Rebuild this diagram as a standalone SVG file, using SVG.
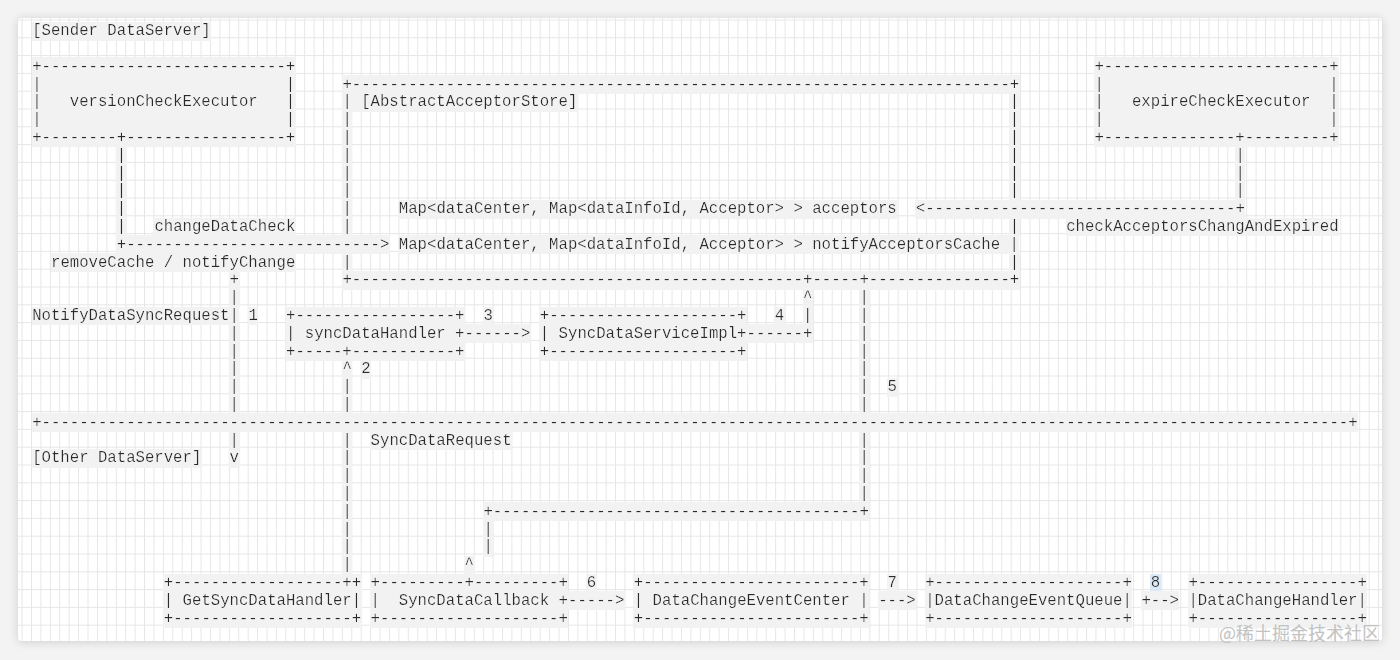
<svg xmlns="http://www.w3.org/2000/svg" width="1400" height="660" viewBox="0 0 1400 660" xml:space="preserve">
<defs>
<filter id="shadow" x="-5%" y="-5%" width="110%" height="110%"><feDropShadow dx="0" dy="1" stdDeviation="5" flood-color="#000" flood-opacity="0.16"/></filter>
<filter id="hl" x="0" y="0" width="1" height="1"><feFlood flood-color="#f2f2f2"/><feMerge><feMergeNode/><feMergeNode in="SourceGraphic"/></feMerge></filter>
<filter id="hlb" x="0" y="0" width="1" height="1"><feFlood flood-color="#dbe8f5"/><feMerge><feMergeNode/><feMergeNode in="SourceGraphic"/></feMerge></filter>
<pattern id="grid" x="31" y="1.7" width="9.42" height="17.8" patternUnits="userSpaceOnUse"><path d="M0.5 0V17.8M0 0.5H9.42" fill="none" stroke="#e6e6e6" stroke-width="1"/></pattern>
</defs>
<style>
text{font-family:"Liberation Mono","DejaVu Sans Mono",monospace;font-size:15.667px;fill:#2a2a2a;white-space:pre;filter:url(#hl)}
text.b{filter:url(#hlb)}
text.wm{font-family:"Noto Sans CJK SC","Noto Sans",sans-serif;font-size:18px;fill:#c2c2c2;filter:none}
</style>
<rect width="1400" height="660" fill="#f3f3f3"/>
<rect x="18" y="18" width="1364" height="623" rx="4" fill="#ffffff" filter="url(#shadow)"/>
<rect x="18" y="18" width="1364" height="623" rx="4" fill="url(#grid)"/>

<g id="sender-dataserver-label">
<text x="32.2" y="35.2">[Sender DataServer]</text>
</g>

<g id="version-check-executor">
<text x="32.2" y="70.8">+--------------------------+</text>
<text x="32.2" y="88.6">|                          |</text>
<text x="32.2" y="106.4">|   versionCheckExecutor   |</text>
<text x="32.2" y="124.2">|                          |</text>
<text x="32.2" y="142">+--------+-----------------+</text>
</g>

<g id="abstract-acceptor-store">
<text x="342.4" y="88.6" textLength="676.8">+----------------------------------------------------------------------+</text>
<text x="342.4" y="106.4">| [AbstractAcceptorStore]</text>
<text x="1009.8"><tspan x="1009.8" y="106.4">|</tspan><tspan x="1009.8" y="124.2">|</tspan><tspan x="1009.8" y="142">|</tspan><tspan x="1009.8" y="159.8">|</tspan><tspan x="1009.8" y="177.6">|</tspan><tspan x="1009.8" y="195.4">|</tspan></text>
<text x="342.4"><tspan x="342.4" y="124.2">|</tspan><tspan x="342.4" y="142">|</tspan><tspan x="342.4" y="159.8">|</tspan><tspan x="342.4" y="177.6">|</tspan><tspan x="342.4" y="195.4">|</tspan><tspan x="342.4" y="213.2">|</tspan><tspan x="342.4" y="231">|</tspan></text>
<text x="398.8" y="213.2">Map&lt;dataCenter, Map&lt;dataInfoId, Acceptor&gt; &gt; acceptors</text>
<text x="1009.8" y="231">|</text>
<text x="398.8" y="248.8">Map&lt;dataCenter, Map&lt;dataInfoId, Acceptor&gt; &gt; notifyAcceptorsCache |</text>
<text x="342.4" y="266.6">|</text>
<text x="1009.8" y="266.6">|</text>
<text x="342.4" y="284.4" textLength="676.8">+------------------------------------------------+-----+---------------+</text>
</g>

<g id="expire-check-executor">
<text x="1094.4" y="70.8">+------------------------+</text>
<text x="1094.4" y="88.6">|                        |</text>
<text x="1094.4" y="106.4">|   expireCheckExecutor  |</text>
<text x="1094.4" y="124.2">|                        |</text>
<text x="1094.4" y="142">+--------------+---------+</text>
</g>

<g id="sync-data-handler">
<text x="286" y="320">+-----------------+</text>
<text x="286" y="337.8">| syncDataHandler +</text>
<text x="286" y="355.6">+-----+-----------+</text>
</g>

<g id="sync-data-service-impl">
<text x="539.8" y="320">+--------------------+</text>
<text x="539.8" y="337.8">| SyncDataServiceImpl+</text>
<text x="539.8" y="355.6">+--------------------+</text>
</g>

<g id="other-dataserver-label">
<text x="32.2" y="462.4">[Other DataServer]</text>
</g>

<g id="get-sync-data-handler">
<text x="163.8" y="587">+------------------++</text>
<text x="163.8" y="604.8">| GetSyncDataHandler|</text>
<text x="163.8" y="622.6">+-------------------+</text>
</g>

<g id="sync-data-callback">
<text x="370.6" y="587">+---------+---------+</text>
<text x="370.6" y="604.8">|  SyncDataCallback +</text>
<text x="370.6" y="622.6">+-------------------+</text>
</g>

<g id="data-change-event-center">
<text x="633.8" y="587">+-----------------------+</text>
<text x="633.8" y="604.8">| DataChangeEventCenter |</text>
<text x="633.8" y="622.6">+-----------------------+</text>
</g>

<g id="data-change-event-queue">
<text x="925.2" y="587">+--------------------+</text>
<text x="925.2" y="604.8">|DataChangeEventQueue|</text>
<text x="925.2" y="622.6">+--------------------+</text>
</g>

<g id="data-change-handler">
<text x="1188.4" y="587">+-----------------+</text>
<text x="1188.4" y="604.8">|DataChangeHandler|</text>
<text x="1188.4" y="622.6">+-----------------+</text>
</g>

<g id="connectors">
<text x="116.8"><tspan x="116.8" y="159.8">|</tspan><tspan x="116.8" y="177.6">|</tspan><tspan x="116.8" y="195.4">|</tspan><tspan x="116.8" y="213.2">|</tspan><tspan x="116.8" y="231">|</tspan></text>
<text x="116.8" y="248.8" textLength="272.6">+---------------------------&gt;</text>
<text x="154.4" y="231">changeDataCheck</text>
<text x="51" y="266.6">removeCache / notifyChange</text>

<text x="1235.4"><tspan x="1235.4" y="159.8">|</tspan><tspan x="1235.4" y="177.6">|</tspan><tspan x="1235.4" y="195.4">|</tspan></text>
<text x="915.8" y="213.2" textLength="329">&lt;---------------------------------+</text>
<text x="1066.2" y="231">checkAcceptorsChangAndExpired</text>

<text x="229.6"><tspan x="229.6" y="284.4">+</tspan><tspan x="229.6" y="302.2">|</tspan></text>
<text x="32.2" y="320">NotifyDataSyncRequest|</text>
<text x="248.4" y="320">1</text>
<text x="229.6"><tspan x="229.6" y="337.8">|</tspan><tspan x="229.6" y="355.6">|</tspan><tspan x="229.6" y="373.4">|</tspan><tspan x="229.6" y="391.2">|</tspan><tspan x="229.6" y="409">|</tspan></text>
<text x="229.6"><tspan x="229.6" y="444.6">|</tspan><tspan x="229.6" y="462.4">v</tspan></text>

<text x="483.4" y="320">3</text>
<text x="464.6" y="337.8">------&gt;</text>

<text x="746.6" y="337.8">------+</text>
<text x="803"><tspan x="803" y="302.2">^</tspan><tspan x="803" y="320">|</tspan></text>
<text x="774.8" y="320">4</text>

<text x="342.4"><tspan x="342.4" y="373.4">^</tspan><tspan x="342.4" y="391.2">|</tspan><tspan x="342.4" y="409">|</tspan></text>
<text x="361.2" y="373.4">2</text>
<text x="342.4"><tspan x="342.4" y="444.6">|</tspan><tspan x="342.4" y="462.4">|</tspan><tspan x="342.4" y="480.2">|</tspan><tspan x="342.4" y="498">|</tspan><tspan x="342.4" y="515.8">|</tspan><tspan x="342.4" y="533.6">|</tspan><tspan x="342.4" y="551.4">|</tspan><tspan x="342.4" y="569.2">|</tspan></text>
<text x="370.6" y="444.6">SyncDataRequest</text>

<text x="859.4"><tspan x="859.4" y="302.2">|</tspan><tspan x="859.4" y="320">|</tspan><tspan x="859.4" y="337.8">|</tspan><tspan x="859.4" y="355.6">|</tspan><tspan x="859.4" y="373.4">|</tspan><tspan x="859.4" y="391.2">|</tspan><tspan x="859.4" y="409">|</tspan></text>
<text x="887.6" y="391.2">5</text>
<text x="859.4"><tspan x="859.4" y="444.6">|</tspan><tspan x="859.4" y="462.4">|</tspan><tspan x="859.4" y="480.2">|</tspan><tspan x="859.4" y="498">|</tspan></text>
<text x="483.4" y="515.8" textLength="385.4">+---------------------------------------+</text>
<text x="483.4"><tspan x="483.4" y="533.6">|</tspan><tspan x="483.4" y="551.4">|</tspan></text>
<text x="464.6" y="569.2">^</text>

<text x="32.2" y="426.8" textLength="1325.4">+-------------------------------------------------------------------------------------------------------------------------------------------+</text>

<text x="586.8" y="587">6</text>
<text x="568" y="604.8">-----&gt;</text>
<text x="887.6" y="587">7</text>
<text x="878.2" y="604.8">---&gt;</text>
<text class="b" x="1150.8" y="587">8</text>
<text x="1141.4" y="604.8">+--&gt;</text>
</g>

<text class="wm" x="1219" y="640">@稀土掘金技术社区</text>
</svg>
